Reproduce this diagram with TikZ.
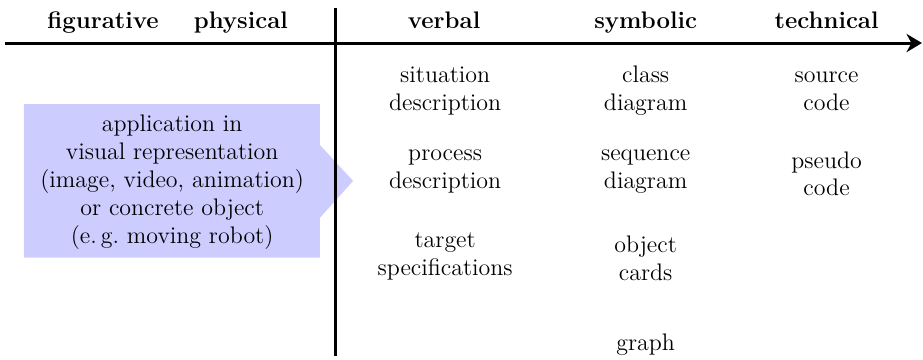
\documentclass[tikz,border=0pt]{standalone}
\usetikzlibrary{arrows.meta}
\begin{document}
\begin{tikzpicture}[
    >={Stealth[length=8pt,width=9.5pt,inset=2.5pt]},
    every node/.style={
      font=\fontsize{12.5}{14.6}\selectfont
    },
    axis/.style={
      line width=1.6pt
    },
    heading/.style={
      font=\fontsize{12.5}{14.6}\selectfont\bfseries,
      anchor=base
    },
    entry/.style={
      align=center,
      inner sep=1pt
    }
  ]
    \useasboundingbox (0,0) rectangle (16.94,-6.59);

    % application arrow behind the axes
    \fill[blue!20] (0.44,-1.91) -- (5.87,-1.91) -- (5.87,-2.66) -- (6.48,-3.32)
      -- (5.87,-4.0) -- (5.87,-4.73) -- (0.44,-4.73) -- cycle;
    \node[entry] (app) at (3.16,-3.34) {application in\\visual representation\\(image, video, animation)\\or concrete object\\(e.\,g.\ moving robot)};

    \coordinate (start) at (0.09,-0.79);
    \coordinate (end) at (16.92,-0.79);
    \coordinate (top) at (6.15,-0.15);
    \coordinate (bottom) at (6.15,-6.53);
    \draw[axis,->] (start) -- (end);
    \draw[axis] (top) -- (bottom);

    \foreach \x/\n/\t in {1.89/fig/figurative,4.42/phys/physical,8.15/verb/verbal,11.85/sym/symbolic,15.17/tech/technical}
      \node[heading] (\n) at (\x,-0.53) {\t};

    % verbal
    \node[entry] (situation) at (8.17,-1.67) {situation\\description};
    \node[entry] (process) at (8.17,-3.15) {process\\description};
    \node[entry] (target) at (8.17,-4.7) {target\\specifications};

    % symbolic
    \node[entry] (class) at (11.85,-1.67) {class\\diagram};
    \node[entry] (sequence) at (11.85,-3.15) {sequence\\diagram};
    \node[entry] (object) at (11.85,-4.74) {object\\cards};
    \node[entry] (graph) at (11.85,-6.33) {graph};

    % technical
    \node[entry] (source) at (15.17,-1.67) {source\\code};
    \node[entry] (pseudo) at (15.17,-3.19) {pseudo\\code};
\end{tikzpicture}
\end{document}
